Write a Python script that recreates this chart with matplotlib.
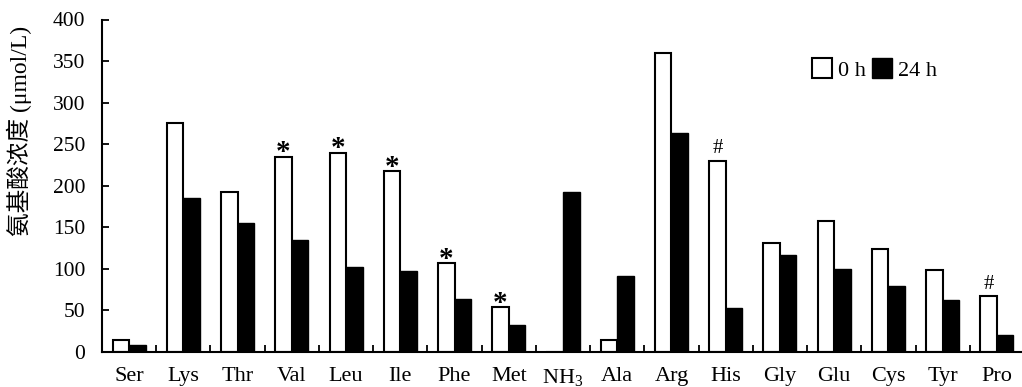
import numpy as np
import matplotlib
matplotlib.use("Agg")
import matplotlib.pyplot as plt
from matplotlib.ticker import FixedLocator

plt.rcParams["font.family"] = ["Liberation Serif", "Noto Sans CJK SC"]
plt.rcParams["mathtext.fontset"] = "custom"
plt.rcParams["mathtext.rm"] = "Liberation Serif"

amino_acids = ["Ser", "Lys", "Thr", "Val", "Leu", "Ile", "Phe", "Met", r"NH$_3$",
               "Ala", "Arg", "His", "Gly", "Glu", "Cys", "Tyr", "Pro"]
values_0h = [15, 275, 192, 235, 240, 218, 107, 54, 0,
             15, 360, 230, 131, 157, 124, 99, 67]
values_24h = [8, 185, 155, 135, 102, 97, 64, 33, 192,
              92, 263, 53, 117, 100, 80, 62, 20]
marks = ["", "", "", "*", "*", "*", "*", "*", "",
         "", "", "#", "", "", "", "", "#"]

fig = plt.figure(figsize=(10.22, 3.87), dpi=100)
ax = fig.add_axes([102 / 1022, 35 / 387, 922 / 1022, 332.5 / 387])

x = np.arange(len(amino_acids))
w = 0.305
ax.bar(x - w / 2, values_0h, w, color="white", edgecolor="black", linewidth=1.5, label="0 h")
ax.bar(x + w / 2, values_24h, w, color="black", edgecolor="black", linewidth=1.0, label="24 h")

for i, m in enumerate(marks):
    if m:
        if m == "*":
            ax.annotate(m, (x[i] - w / 2, values_0h[i]), xytext=(0, -7),
                        textcoords="offset points", ha="center", va="bottom",
                        fontsize=21, fontweight="bold")
        else:
            ax.annotate(m, (x[i] - w / 2, values_0h[i]), xytext=(0, 2),
                        textcoords="offset points", ha="center", va="bottom", fontsize=15)

ax.set_xlim(-0.5, len(amino_acids) - 0.5)
ax.set_ylim(0, 400)
ax.set_yticks(np.arange(0, 401, 50))
ax.set_xticks(x)
ax.set_xticklabels(amino_acids)
ax.xaxis.set_minor_locator(FixedLocator(np.arange(0.5, len(amino_acids) - 0.5, 1)))
ax.tick_params(axis="x", which="major", length=0, pad=11, labelsize=16)
ax.tick_params(axis="x", which="minor", direction="in", length=5, width=1.3)
ax.tick_params(axis="y", direction="in", length=5, width=1.3, labelsize=15.5, pad=12)

for s in ["top", "right"]:
    ax.spines[s].set_visible(False)
for s in ["left", "bottom"]:
    ax.spines[s].set_linewidth(1.5)

ax.set_ylabel("氨基酸浓度 (μmol/L)", fontsize=17)
ax.yaxis.set_label_coords(-0.076, 0.665)

ax.legend(loc="upper left", bbox_to_anchor=(0.758, 0.917), ncol=2, frameon=False,
          fontsize=16, handlelength=0.9, handleheight=1.0, handletextpad=0.25,
          columnspacing=0.3, borderpad=0)

fig.savefig("out.png", dpi=100)
